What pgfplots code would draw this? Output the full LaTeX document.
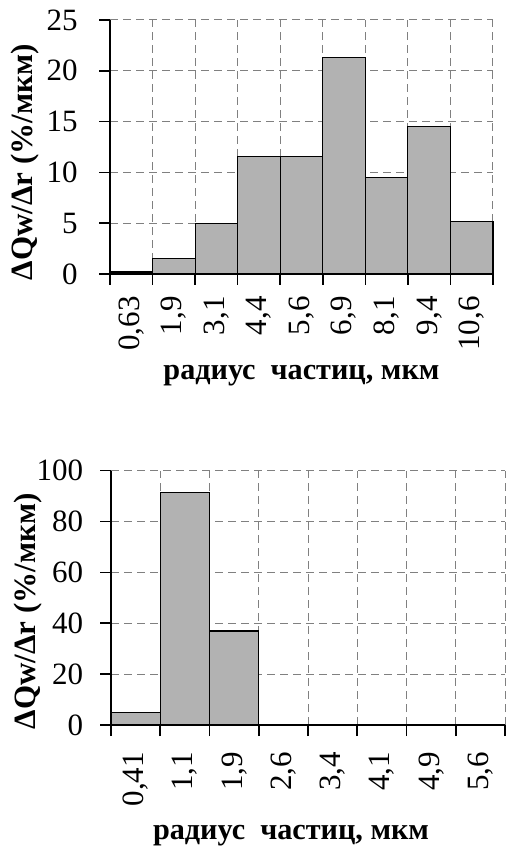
\documentclass[border=0pt]{standalone}
\usepackage{fontspec}
\setmainfont{Liberation Serif}
\usepackage{pgfplots}
\pgfplotsset{compat=1.18}
\definecolor{barfill}{RGB}{178,178,178}
\definecolor{gridgray}{RGB}{128,128,128}
\newcommand{\tickfont}{\fontsize{15.5}{18}\selectfont}
\newcommand{\xa}[1]{#1\hspace*{5.5pt}}
\newcommand{\xb}[1]{#1\hspace*{7.9pt}}
\pgfplotsset{
  hist/.style={
    scale only axis,
    axis lines*=left,
    axis line style={black, line width=1pt},
    tick align=outside,
    major tick length=5.5pt,
    tick style={black, line width=0.8pt},
    xmin=0, ymin=0,
    xmajorgrids, ymajorgrids,
    grid style={gridgray, line width=0.5pt, dash pattern=on 4pt off 2.5pt},
    x tick label as interval,
    every tick label/.append style={font=\tickfont, inner sep=0pt},
    xticklabel style={rotate=90, anchor=east},
    yticklabel style={anchor=east},
    /pgf/number format/assume math mode=true,
    xlabel style={font=\bfseries\fontsize{15.1}{18}\selectfont},
    ylabel style={font=\bfseries\fontsize{15.5}{18}\selectfont},
    clip=false,
  }
}
\begin{document}
\begin{tikzpicture}
\path[use as bounding box] (0,0) rectangle (252.5pt,425pt);
% top chart
\begin{axis}[hist,
  at={(55pt,288pt)}, anchor=south west,
  width=191.5pt, height=127pt,
  xmax=9, ymax=25,
  xtick={0,...,9},
  xticklabels={\xa{0,63},\xa{1,9},\xa{3,1},\xa{4,4},\xa{5,6},\xa{6,9},\xa{8,1},\xa{9,4},\xa{10,6},{}},
  yticklabel={\pgfmathprintnumber{\tick}\hspace*{10.5pt}},
  ytick={0,5,...,25},
  xlabel={радиус\ \ частиц, мкм},
  ylabel={ΔQw/Δr (\%/мкм)},
  xlabel style={at={(axis description cs:0.5,-0.40)}, anchor=center},
  ylabel style={at={(axis description cs:-0.222,0.44)}, anchor=center, rotate=0},
]
\addplot[ybar interval, fill=barfill, draw=black, line width=0.6pt]
  coordinates {(0,0.2) (1,1.5) (2,5.0) (3,11.6) (4,11.6) (5,21.3) (6,9.5) (7,14.5) (8,5.2) (9,5.2)};
\end{axis}
% bottom chart
\begin{axis}[hist,
  at={(55.5pt,62.5pt)}, anchor=south west,
  width=197pt, height=127.15pt,
  xmax=8, ymax=100,
  xtick={0,...,8},
  xticklabels={\xb{0,41},\xb{1,1},\xb{1,9},\xb{2,6},\xb{3,4},\xb{4,1},\xb{4,9},\xb{5,6},{}},
  yticklabel={\pgfmathprintnumber{\tick}\hspace*{8.3pt}},
  ytick={0,20,...,100},
  xlabel={радиус\ \ частиц, мкм},
  ylabel={ΔQw/Δr (\%/мкм)},
  xlabel style={at={(axis description cs:0.457,-0.437)}, anchor=center},
  ylabel style={at={(axis description cs:-0.21,0.447)}, anchor=center, rotate=0},
]
\addplot[ybar interval, fill=barfill, draw=black, line width=0.6pt]
  coordinates {(0,5.0) (1,91.5) (2,37.0) (3,0) (4,0) (5,0) (6,0) (7,0) (8,0)};
\end{axis}
\end{tikzpicture}
\end{document}
